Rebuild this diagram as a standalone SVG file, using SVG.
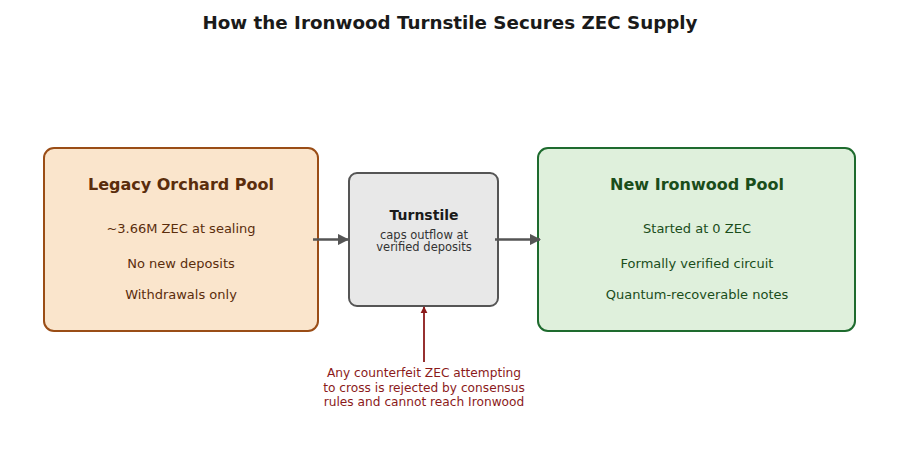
<svg xmlns="http://www.w3.org/2000/svg" width="900" height="450" viewBox="0 0 900 450">
<defs>
<marker id="ah" viewBox="0 0 10 10" refX="9" refY="5" markerWidth="4.6" markerHeight="4.6" orient="auto" markerUnits="strokeWidth"><path d="M0,0 L10,5 L0,10 z" fill="#555"/></marker>
<marker id="ahr" viewBox="0 0 10 10" refX="9" refY="5" markerWidth="4" markerHeight="4" orient="auto" markerUnits="strokeWidth"><path d="M0,0 L10,5 L0,10 z" fill="#8b1a1a"/></marker>
</defs>
<style>
text{font-family:"DejaVu Sans",sans-serif;text-anchor:middle}
.title{font-size:18.3px;font-weight:bold;fill:#1a1a1a}
.h{font-size:16px;font-weight:bold}
.b{font-size:13px}
.leg{fill:#5a2d0c}
.irn{fill:#1a4d1a}
.red{font-size:12.2px;fill:#8b1a1a}
.sub{font-size:11.5px;fill:#333}
</style>
<rect width="900" height="450" fill="#fff"/>
<text class="title" x="450" y="29">How the Ironwood Turnstile Secures ZEC Supply</text>
<g id="legacy">
<rect x="44" y="148" width="274" height="183" rx="10" fill="#fae5cc" stroke="#9a4d16" stroke-width="2"/>
<text class="h leg" x="181" y="190">Legacy Orchard Pool</text>
<text class="b leg" x="181" y="233">~3.66M ZEC at sealing</text>
<text class="b leg" x="181" y="268">No new deposits</text>
<text class="b leg" x="181" y="299">Withdrawals only</text>
</g>
<g id="turnstile">
<rect x="349" y="173" width="149" height="133" rx="8" fill="#e8e8e8" stroke="#555" stroke-width="2"/>
<text x="424" y="220" style="font-size:14px;font-weight:bold;fill:#1a1a1a">Turnstile</text>
<text class="sub" x="424" y="239">caps outflow at</text>
<text class="sub" x="424" y="251">verified deposits</text>
</g>
<g id="ironwood">
<rect x="538" y="148" width="317" height="183" rx="10" fill="#dff0dc" stroke="#1e6b2e" stroke-width="2"/>
<text class="h irn" x="697" y="190">New Ironwood Pool</text>
<text class="b irn" x="697" y="233">Started at 0 ZEC</text>
<text class="b irn" x="697" y="268">Formally verified circuit</text>
<text class="b irn" x="697" y="299">Quantum-recoverable notes</text>
</g>
<g id="connectors">
<line x1="313" y1="239.5" x2="348" y2="239.5" stroke="#555" stroke-width="2.5" marker-end="url(#ah)"/>
<line x1="495" y1="239.5" x2="540" y2="239.5" stroke="#555" stroke-width="2.5" marker-end="url(#ah)"/>
<line x1="424" y1="362" x2="424" y2="307" stroke="#8b1a1a" stroke-width="1.8" marker-end="url(#ahr)"/>
</g>
<g id="note">
<text class="red" x="424" y="377">Any counterfeit ZEC attempting</text>
<text class="red" x="424" y="391.5">to cross is rejected by consensus</text>
<text class="red" x="424" y="406">rules and cannot reach Ironwood</text>
</g>
</svg>
